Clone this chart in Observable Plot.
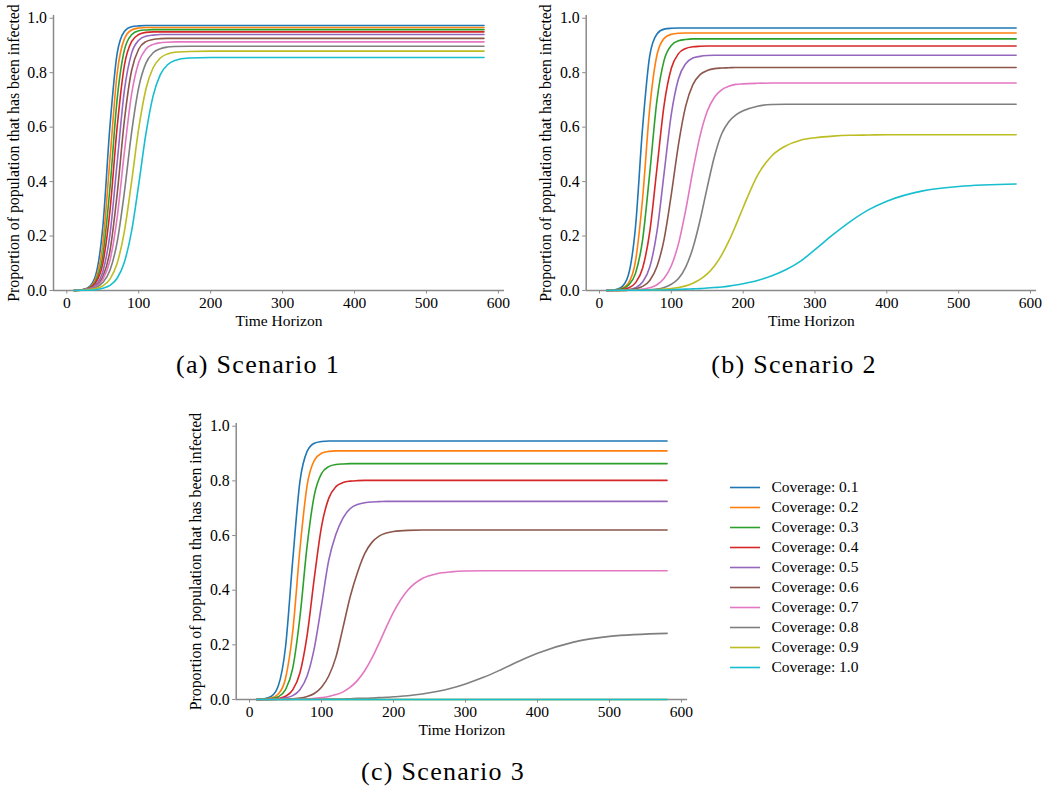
<!DOCTYPE html>
<html>
<head>
<meta charset="utf-8">
<script src="https://cdn.jsdelivr.net/npm/d3@7"></script>
<script src="https://cdn.jsdelivr.net/npm/@observablehq/plot@0.6"></script>
<style>
  html, body { margin: 0; padding: 0; background: #fff; }
  body { width: 1050px; height: 794px; position: relative; overflow: hidden; font-family: 'Liberation Serif', serif; }
  .panel { position: absolute; }
  .caption { position: absolute; font-family: 'Liberation Serif', serif; font-size: 26px; letter-spacing: 1.3px; line-height: 30px; transform: translateX(-50%); white-space: nowrap; color: #000; }
</style>
</head>
<body>
<div id="pa" class="panel" style="left:0px;top:0px"></div>
<div id="pb" class="panel" style="left:532px;top:0px"></div>
<div id="pc" class="panel" style="left:182px;top:408px"></div>
<div id="legend" class="panel" style="left:720px;top:470px"></div>
<div class="caption" style="left:258px;top:350px">(a) Scenario 1</div>
<div class="caption" style="left:794px;top:350px">(b) Scenario 2</div>
<div class="caption" style="left:443px;top:757px">(c) Scenario 3</div>
<script>
// ---------- labels and ticks ----------
const coverageLabels = ["Coverage: 0.1","Coverage: 0.2","Coverage: 0.3","Coverage: 0.4","Coverage: 0.5",
                        "Coverage: 0.6","Coverage: 0.7","Coverage: 0.8","Coverage: 0.9","Coverage: 1.0"];
const xTicks = [0, 100, 200, 300, 400, 500, 600];
const yTicks = [0, 0.2, 0.4, 0.6, 0.8, 1.0];
const xLabel = "Time Horizon";
const yLabel = "Proportion of population that has been infected";

// ---------- Scenario 1 ----------
const timesA = [10,20,30,40,50,60,70,80,90,100,110,120,130,140,150,170,200,580];
const a01 = [0,.002,.011,.055,.232,.604,.871,.951,.969,.972,.973,.973,.973,.973,.973,.973,.973,.973];
const a02 = [0,.002,.009,.042,.169,.483,.797,.924,.957,.964,.966,.966,.966,.966,.966,.966,.966,.966];
const a03 = [0,.002,.008,.033,.126,.377,.703,.883,.939,.954,.957,.958,.958,.958,.958,.958,.958,.958];
const a04 = [0,.002,.007,.028,.098,.293,.600,.826,.914,.940,.948,.950,.950,.950,.950,.950,.950,.950];
const a05 = [0,.002,.006,.020,.069,.206,.470,.734,.871,.919,.934,.938,.940,.940,.940,.940,.940,.940];
const a06 = [0,.001,.005,.015,.049,.145,.354,.623,.807,.887,.914,.922,.925,.926,.926,.926,.926,.926];
const a07 = [0,.002,.005,.014,.040,.110,.268,.507,.720,.838,.887,.904,.910,.912,.913,.913,.913,.913];
const a08 = [0,.002,.004,.011,.029,.074,.178,.360,.579,.746,.835,.873,.888,.894,.896,.897,.897,.897];
const a09 = [0,.001,.003,.007,.017,.042,.100,.216,.398,.595,.740,.818,.854,.869,.875,.878,.879,.879];
const a10 = [0,.001,.001,.003,.008,.019,.045,.104,.217,.390,.576,.715,.793,.829,.845,.854,.856,.856];

// ---------- Scenarios 2 and 3 share a time grid ----------
const timesBC = [10,20,30,40,50,60,70,80,90,100,110,120,130,140,150,160,170,180,190,200,220,240,260,280,300,325,350,375,400,450,500,580];

const b01 = [0,.002,.011,.055,.230,.598,.863,.942,.960,.963,.964,.964,.964,.964,.964,.964,.964,.964,.964,.964,.964,.964,.964,.964,.964,.964,.964,.964,.964,.964,.964,.964];
const b02 = [0,.001,.006,.026,.106,.338,.671,.865,.926,.941,.945,.946,.946,.946,.946,.946,.946,.946,.946,.946,.946,.946,.946,.946,.946,.946,.946,.946,.946,.946,.946,.946];
const b03 = [0,.002,.005,.019,.062,.186,.433,.698,.846,.900,.917,.922,.924,.924,.924,.924,.924,.924,.924,.924,.924,.924,.924,.924,.924,.924,.924,.924,.924,.924,.924,.924];
const b04 = [0,.001,.003,.009,.028,.082,.216,.449,.682,.816,.870,.889,.895,.897,.898,.898,.898,.898,.898,.898,.898,.898,.898,.898,.898,.898,.898,.898,.898,.898,.898,.898];
const b05 = [0,0,.001,.003,.010,.031,.086,.216,.432,.648,.778,.833,.854,.860,.863,.864,.864,.864,.864,.864,.864,.864,.864,.864,.864,.864,.864,.864,.864,.864,.864,.864];
const b06 = [0,0,.001,.002,.006,.015,.037,.088,.189,.353,.537,.677,.756,.793,.808,.815,.817,.818,.819,.819,.819,.819,.819,.819,.819,.819,.819,.819,.819,.819,.819,.819];
const b07 = [0,0,0,.001,.002,.005,.010,.021,.045,.091,.172,.295,.440,.568,.658,.710,.737,.750,.757,.759,.761,.762,.762,.762,.762,.762,.762,.762,.762,.762,.762,.762];
const b08 = [0,0,0,.001,.001,.002,.003,.005,.011,.023,.044,.086,.156,.258,.379,.492,.575,.620,.645,.660,.677,.683,.684,.684,.684,.684,.684,.684,.684,.684,.684,.684];
const b09 = [0,0,0,.001,.001,.001,.002,.003,.005,.007,.011,.017,.027,.041,.061,.090,.130,.181,.241,.305,.423,.495,.532,.552,.561,.567,.570,.571,.572,.572,.572,.572];
const b10 = [0,.001,.001,.001,.001,.001,.002,.002,.002,.003,.004,.005,.006,.007,.009,.011,.013,.016,.020,.025,.037,.054,.077,.108,.150,.205,.255,.297,.328,.366,.382,.391];

const c01 = [0,.003,.011,.050,.192,.509,.797,.908,.938,.944,.946,.946,.946,.946,.946,.946,.946,.946,.946,.946,.946,.946,.946,.946,.946,.946,.946,.946,.946,.946,.946,.946];
const c02 = [0,.001,.005,.020,.077,.248,.549,.784,.875,.901,.908,.910,.910,.910,.910,.910,.910,.910,.910,.910,.910,.910,.910,.910,.910,.910,.910,.910,.910,.910,.910,.910];
const c03 = [0,.001,.003,.010,.036,.114,.301,.562,.748,.827,.852,.860,.862,.863,.863,.863,.863,.863,.863,.863,.863,.863,.863,.863,.863,.863,.863,.863,.863,.863,.863,.863];
const c04 = [0,0,.001,.004,.012,.035,.097,.235,.445,.633,.736,.779,.794,.799,.801,.802,.802,.802,.802,.802,.802,.802,.802,.802,.802,.802,.802,.802,.802,.802,.802,.802];
const c05 = [0,0,.001,.002,.006,.014,.036,.086,.188,.345,.509,.605,.665,.699,.714,.720,.723,.724,.725,.725,.725,.725,.725,.725,.725,.725,.725,.725,.725,.725,.725,.725];
const c06 = [0,0,0,.001,.001,.003,.005,.011,.022,.045,.086,.155,.265,.378,.465,.534,.575,.598,.609,.615,.619,.620,.620,.620,.620,.620,.620,.620,.620,.620,.620,.620];
const c07 = [0,0,0,.001,.001,.001,.002,.002,.004,.007,.011,.018,.028,.045,.070,.105,.151,.206,.265,.320,.401,.443,.460,.467,.470,.471,.471,.471,.471,.471,.471,.471];
const c08 = [0,0,0,0,0,.001,.001,.001,.001,.001,.002,.002,.002,.003,.004,.004,.005,.007,.008,.010,.014,.020,.029,.041,.057,.081,.110,.141,.169,.210,.231,.242];
const c09 = [0,0,0,0,0,0,0,0,0,0,0,0,0,0,0,0,0,0,0,0,0,0,0,0,0,0,0,0,0,0,0,0];
const c10 = [0,0,0,0,0,0,0,0,0,0,0,0,0,0,0,0,0,0,0,0,0,0,0,0,0,0,0,0,0,0,0,0];

// ---------- build tidy tables ----------
function tidy(times, series) {
  return series.flatMap((vals, i) => vals.map((v, j) => ({t: times[j], v, s: coverageLabels[i]})));
}
const rowsA = tidy(timesA, [a01,a02,a03,a04,a05,a06,a07,a08,a09,a10]);
const rowsB = tidy(timesBC, [b01,b02,b03,b04,b05,b06,b07,b08,b09,b10]);
const rowsC = tidy(timesBC, [c01,c02,c03,c04,c05,c06,c07,c08,c09,c10]);

const xDomain = [-18.5, 608.5];
const yDomain = [0, 1.01];
const spine = "#8a8a8a";

function panel(rows, opt) {
  return Plot.plot({
    width: opt.width, height: opt.height,
    marginLeft: opt.ml, marginRight: opt.mr, marginTop: opt.mt, marginBottom: opt.mb,
    x: {domain: xDomain},
    y: {domain: yDomain},
    color: {domain: coverageLabels, range: d3.schemeCategory10},
    style: {fontFamily: "'Liberation Serif', serif", fontSize: "15px", color: "#000", background: "transparent"},
    marks: [
      Plot.ruleY([yDomain[0]], {stroke: spine, strokeWidth: 1.5}),
      Plot.ruleX([xDomain[0]], {stroke: spine, strokeWidth: 1.5}),
      Plot.line(rows, {x: "t", y: "v", z: "s", stroke: "s", strokeWidth: 1.6, curve: "monotone-x"}),
      Plot.axisX(xTicks, {tickSize: 3.5, tickPadding: 3, stroke: spine, fill: "#000", fontSize: 15.5,
        tickFormat: d => String(d), label: xLabel, labelAnchor: "center", labelArrow: "none", labelOffset: 35}),
      Plot.axisY(yTicks, {tickSize: 3.5, tickPadding: 3, stroke: spine, fill: "#000", fontSize: 15.8,
        tickFormat: d3.format(".1f"), label: yLabel, labelAnchor: "center", labelArrow: "none", labelOffset: 46})
    ]
  });
}

document.getElementById("pa").append(panel(rowsA, {width: 520, height: 330, ml: 53, mr: 16, mt: 15, mb: 40}));
document.getElementById("pb").append(panel(rowsB, {width: 518, height: 330, ml: 53.7, mr: 13.9, mt: 15, mb: 40}));
document.getElementById("pc").append(panel(rowsC, {width: 520, height: 331, ml: 53.7, mr: 14.9, mt: 15, mb: 40}));

// ---------- legend ----------
const legendRows = coverageLabels.map(s => ({s}));
document.getElementById("legend").append(Plot.plot({
  width: 180, height: 215, margin: 0,
  x: {domain: [0, 180], range: [0, 180], axis: null},
  y: {type: "point", domain: coverageLabels, range: [15, 198.6], padding: 0, axis: null},
  color: {domain: coverageLabels, range: d3.schemeCategory10},
  style: {fontFamily: "'Liberation Serif', serif", fontSize: "15px", color: "#000", background: "transparent"},
  marks: [
    Plot.ruleY(legendRows, {y: "s", x1: 10, x2: 40, stroke: "s", strokeWidth: 1.6}),
    Plot.text(legendRows, {y: "s", x: 51, text: "s", textAnchor: "start", fill: "#000", fontSize: 15.5})
  ]
}));
</script>
</body>
</html>
